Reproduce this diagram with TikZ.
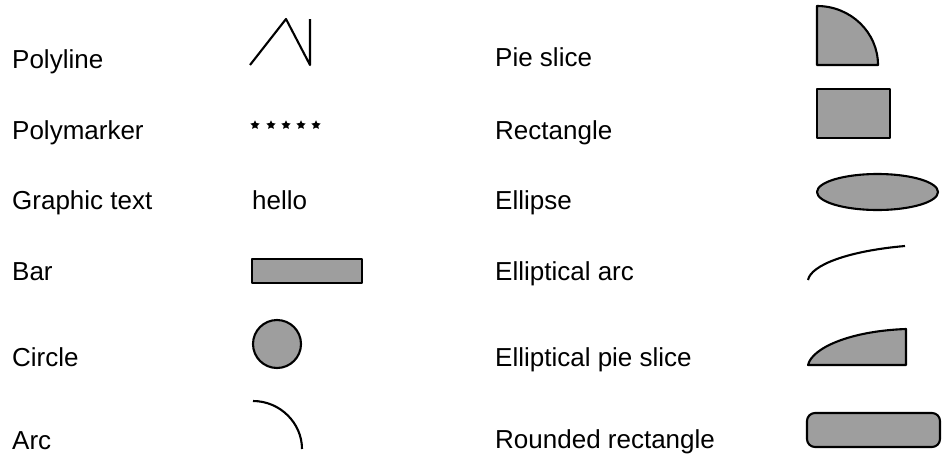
\documentclass[tikz,border=0pt]{standalone}
\usepackage{fontspec}
\setmainfont{Liberation Sans}
\usetikzlibrary{shapes.geometric}
\begin{document}
\begin{tikzpicture}[x=1pt,y=-1pt,
  lbl/.style={anchor=base west, inner sep=0pt, font=\fontsize{26}{30}\selectfont},
  shp/.style={draw=black, line width=2.1pt, fill=black!38, line join=round},
  ln/.style={draw=black, line width=2.1pt, line join=round},
  mk/.style={star, star points=5, star point ratio=2, fill=black, inner sep=0pt, minimum size=9.5pt}]
\useasboundingbox (0,0) rectangle (942,455);
% left column labels
\node[lbl] (l1) at (12,68) {Polyline};
\node[lbl] (l2) at (12,139) {Polymarker};
\node[lbl] (l3) at (12,209) {Graphic text};
\node[lbl] (l4) at (12,280) {Bar};
\node[lbl] (l5) at (12,366) {Circle};
\node[lbl] (l6) at (12,449) {Arc};
% right column labels
\node[lbl] (r1) at (495,66) {Pie slice};
\node[lbl] (r2) at (495,139) {Rectangle};
\node[lbl] (r3) at (495,209) {Ellipse};
\node[lbl] (r4) at (495,280) {Elliptical arc};
\node[lbl] (r5) at (495,366) {Elliptical pie slice};
\node[lbl] (r6) at (495,448) {Rounded rectangle};
% left shapes
\draw[ln] (250,65) -- (286,19) -- (310,65) -- (310,19);
\foreach \i/\x in {1/255,2/271,3/286,4/301,5/316}
  \node[mk] (m\i) at (\x,125) {};
\node[lbl] (hello) at (252,209) {hello};
\draw[shp] (252,259) rectangle (362,283);
\draw[shp] (277,344) circle [radius=24pt];
\draw[ln] (253,401) .. controls (280,401) and (302,423) .. (302,449);
% right shapes
\draw[shp] (817,65) -- (817,6) .. controls (850.7,6) and (878,32.4) .. (878,65) -- cycle;
\draw[shp] (817,89) rectangle (890,138);
\draw[shp] (877.5,192) ellipse [x radius=60.5pt, y radius=18pt];
\draw[ln] (808,280) .. controls (811,265) and (848,251) .. (905,246);
\draw[shp] (808,365) .. controls (812,348) and (850,331) .. (906,329) -- (906,365) -- cycle;
\draw[shp, rounded corners=8pt] (807,413) rectangle (940,447);
\end{tikzpicture}
\end{document}
